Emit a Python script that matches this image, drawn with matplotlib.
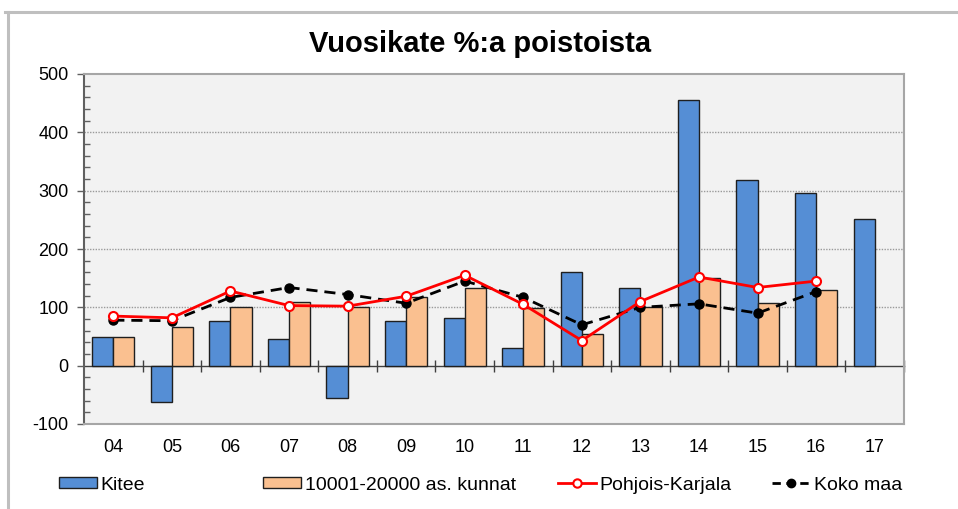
#!/usr/bin/env python
import sys
import numpy as np
import matplotlib
matplotlib.use('Agg')
import matplotlib.pyplot as plt
from matplotlib.lines import Line2D
from matplotlib.patches import Patch

plt.rcParams['font.family'] = ['Liberation Sans', 'DejaVu Sans']
plt.rcParams['axes.unicode_minus'] = False

nan = np.nan
years = ['04', '05', '06', '07', '08', '09', '10', '11', '12', '13', '14',
         '15', '16', '17']
kitee = [50, -62, 77, 46, -56, 76, 82, 31, 160, 133, 455, 318, 296, 252]
kunnat = [50, 67, 100, 109, 100, 118, 134, 99, 54, 101, 151, 107, 130, nan]
pkarjala = [85, 82, 128, 103, 102, 119, 155, 105, 43, 110, 152, 134, 145, nan]
kokomaa = [78, 77, 117, 134, 122, 107, 145, 117, 70, 100, 106, 90, 127, nan]
labels = ['Kitee', '10001-20000 as. kunnat', 'Pohjois-Karjala', 'Koko maa']
title = 'Vuosikate %:a poistoista'


def create_figure(outfile):

    # Layout (pixels)
    W, H = 958, 509
    left, right, top, bottom = 84, 904, 74, 424
    fig = plt.figure(figsize=(W/100, H/100), dpi=100)
    fig.patch.set_facecolor('white')
    ax = fig.add_axes([left/W, 1 - bottom/H, (right-left)/W, (bottom-top)/H])
    ax.set_facecolor('#f2f2f2')

    # outer frame (only top and left visible in the crop)
    fig.add_artist(Line2D([5/W, 1], [1 - 12/H, 1 - 12/H], color='#bfbfbf',
                          lw=2.2, transform=fig.transFigure))
    fig.add_artist(Line2D([8/W, 8/W], [1 - 12/H, 0], color='#bfbfbf',
                          lw=2.2, transform=fig.transFigure))

    x = np.arange(len(years))
    w = 0.36
    ax.bar(x - w/2, kitee, w, color='#558ed5', edgecolor='#1f1f1f',
           linewidth=1.0, zorder=3)
    ax.bar(x + w/2, kunnat, w, color='#fac090', edgecolor='#1f1f1f',
           linewidth=1.0, zorder=3)
    ax.plot(x, kokomaa, color='black', lw=2, dashes=(4, 2.5), marker='o',
            ms=6.5, mfc='black', mec='black', zorder=4)
    ax.plot(x, pkarjala, color='#ff0000', lw=2, marker='o', ms=6.5,
            mfc='white', mec='#ff0000', mew=1.5, zorder=5)

    ax.set_xlim(-0.5, len(years) - 0.5)
    ax.set_ylim(-100, 500)
    ax.set_yticks(range(-100, 501, 100))
    ax.set_yticks(range(-100, 501, 20), minor=True)
    ax.tick_params(axis='y', which='major', direction='out', length=5,
                   width=1, color='#606060', labelsize=13, pad=6)
    ax.tick_params(axis='y', which='minor', direction='in', length=4,
                   width=1, color='#606060')
    for yv in range(100, 500, 100):
        ax.axhline(yv, color='#9a9a9a', lw=1, ls=(0, (1, 1)), zorder=1)

    ax.set_xticks(x)
    ax.set_xticklabels(years)
    ax.tick_params(axis='x', length=0, labelsize=13, pad=11)

    for s in ['top', 'right', 'bottom']:
        ax.spines[s].set_color('#a6a6a6')
        ax.spines[s].set_linewidth(1.5)
    ax.spines['left'].set_color('#606060')
    ax.spines['left'].set_linewidth(1.5)

    # zero line with category boundary ticks
    sec = ax.secondary_xaxis(1/6)
    sec.set_xticks(np.arange(0.5, len(years), 1.0))
    sec.set_xticklabels([])
    sec.tick_params(direction='inout', length=9, width=1, color='#404040')
    sec.spines['bottom'].set_color('#404040')
    sec.spines['bottom'].set_linewidth(1)
    sec.spines['bottom'].set_zorder(3.5)

    fig.text(480/W, 1 - 44/H, title, ha='center', va='center',
             fontsize=21, fontweight='bold')

    # legend, one entry each so the spacing follows the original
    handles = [Patch(facecolor='#558ed5', edgecolor='#1f1f1f', lw=1),
               Patch(facecolor='#fac090', edgecolor='#1f1f1f', lw=1),
               Line2D([], [], color='#ff0000', lw=2, marker='o', ms=6,
                      mfc='white', mec='#ff0000', mew=1.5),
               Line2D([], [], color='black', lw=2, dashes=(3, 2), marker='o',
                      ms=6, mfc='black', mec='black')]
    for h, lab, xl in zip(handles, labels, [59, 263, 558, 772]):
        fig.legend([h], [lab], loc='center left',
                   bbox_to_anchor=(xl/W, 1 - 485/H), frameon=False,
                   fontsize=14, handlelength=1.95, handleheight=0.55,
                   handletextpad=0.2, borderpad=0, borderaxespad=0)

    fig.savefig(outfile, dpi=100)


def main(argv=None):
    create_figure('out.png')

if __name__ == "__main__":
    sys.exit(main())
